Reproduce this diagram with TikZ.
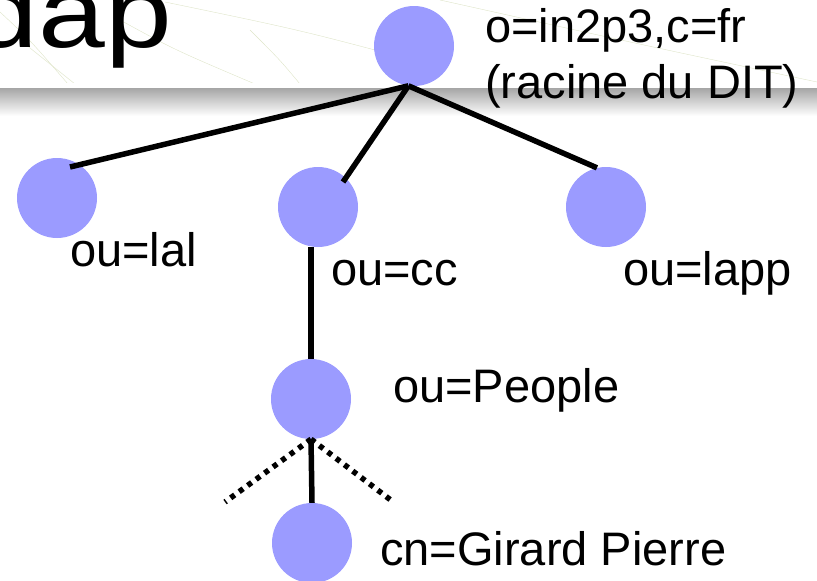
\documentclass[tikz,border=0pt]{standalone}
\usepackage{fontspec}
\setmainfont{Liberation Sans}

\definecolor{entryblue}{RGB}{155,155,255}
\definecolor{swoosh}{RGB}{222,228,200}

% wide letters for the slide title
\newcommand{\widetext}[1]{\scalebox{1.2}[1]{#1}}

\begin{document}
\begin{tikzpicture}[x=1pt,y=-1pt,
  entry/.style={circle,fill=entryblue,minimum size=80pt,inner sep=0pt},
  dnname/.style={anchor=base west,inner sep=0pt,font=\fontsize{47}{56}\selectfont},
  link/.style={line width=5.5pt},
  hidden/.style={line width=5.5pt,dash pattern=on 5pt off 5.5pt}]
  \useasboundingbox (0,0) rectangle (817,581);
  \clip (0,0) rectangle (817,581);

  % slide background: faint lines and the title band
  \draw[swoosh,thin] (0,12) .. controls (30,40) .. (68,84);
  \draw[swoosh,thin] (20,40) .. controls (45,60) .. (75,84);
  \draw[swoosh,thin] (120,20) .. controls (175,50) .. (255,84);
  \draw[swoosh,thin] (165,2) .. controls (300,30) .. (420,62);
  \draw[swoosh,thin] (250,30) .. controls (280,60) .. (300,84);
  \draw[swoosh,thin] (440,0) .. controls (620,40) .. (817,82);
  \shade[top color=gray!70,bottom color=white] (0,88) rectangle (817,116);
  \draw[white,line width=2pt] (0,84) -- (817,84);
  \node[anchor=base east,inner sep=0pt,font=\fontsize{100}{120}\selectfont] (title) at (172,47) {\widetext{dap}};

  % the entries of the tree
  \node[entry] (dit) at (414,46) {};
  \node[entry] (lal) at (57,198) {};
  \node[entry] (cc) at (318,207) {};
  \node[entry] (lapp) at (606,207) {};
  \node[entry] (people) at (311,399) {};
  \node[entry] (girard) at (312,543) {};

  \coordinate (fork) at (dit.262);
  \coordinate (more left) at (225,502);
  \coordinate (more right) at (392,501);

  \draw[link] (fork) -- ([shift={(13,-31)}]lal.center);
  \draw[link] (fork) -- ([shift={(25,-25)}]cc.center);
  \draw[link] (fork) -- (lapp.103);
  \draw[link] (people.north) -- (people.north |- cc.south);
  \draw[link] (people.south) -- (girard.north);
  \draw[hidden] (people.south) -- (more left);
  \draw[hidden] (people.south) -- (more right);

  \node[dnname] (ditname) at (485,42) {o=in2p3,c=fr};
  \node[dnname] (ditnote) at (485,98) {(racine du DIT)};
  \node[dnname] (lalname) at (70,266) {ou=lal};
  \node[dnname] (ccname) at (331,285) {ou=cc};
  \node[dnname] (lappname) at (623,285) {ou=lapp};
  \node[dnname] (peoplename) at (393,402) {ou=People};
  \node[dnname] (girardname) at (380,565) {cn=Girard Pierre};
\end{tikzpicture}
\end{document}
